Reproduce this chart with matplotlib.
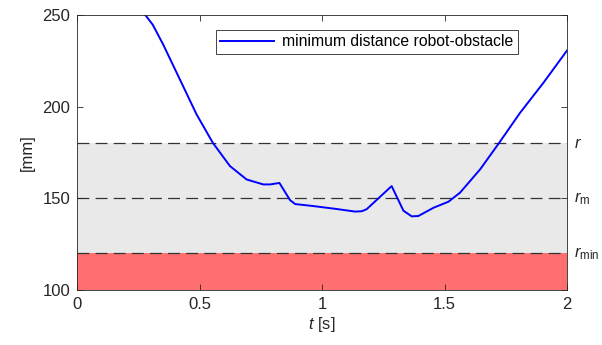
import numpy as np
import matplotlib.pyplot as plt

plt.rcParams['font.family'] = ['Liberation Sans', 'DejaVu Sans']
plt.rcParams['mathtext.fontset'] = 'custom'
plt.rcParams['mathtext.it'] = 'Liberation Sans:italic'
plt.rcParams['mathtext.rm'] = 'Liberation Sans'

# minimum robot-obstacle distance over time
t_s = [0.278, 0.309, 0.352, 0.420, 0.488, 0.554, 0.624, 0.692, 0.760, 0.788, 0.826,
       0.869, 0.890, 0.965, 1.060, 1.135, 1.162, 1.182, 1.284, 1.332, 1.366, 1.393,
       1.455, 1.516, 1.563, 1.645, 1.723, 1.808, 1.903, 2.0]
d_mm = [250, 244.6, 233.7, 214.7, 195.7, 180.3, 167.6, 160.3, 157.6, 157.6, 158.4,
        149.1, 146.9, 145.8, 144.2, 142.8, 143, 144.1, 156.7, 143.3, 140.2, 140.4,
        144.9, 148.2, 153.1, 165.8, 180.3, 196.6, 212.9, 230.6]

# distance thresholds
R_MIN, R_M, R = 120, 150, 180
LEVELS = [(R, r'$r$'), (R_M, r'$r_{\mathrm{m}}$'), (R_MIN, r'$r_{\mathrm{min}}$')]

DARK = '#262626'
fig = plt.figure(figsize=(6.02, 3.45), dpi=100)
ax = fig.add_axes([0.128, 0.159, 0.814, 0.798])

ax.axhspan(R_MIN, R, color='#e9e9e9', lw=0, zorder=0)
ax.axhspan(100, R_MIN, color='#ff6f6f', lw=0, zorder=0)
for y, lab in LEVELS:
    ax.axhline(y, color='0.2', lw=0.9, dashes=(9.5, 5), zorder=1)
    ax.text(2.03, y, lab, fontsize=12, color=DARK, va='center', ha='left', clip_on=False)

ax.plot(t_s, d_mm, color='#0000ff', lw=1.4, zorder=3, label='minimum distance robot-obstacle')

ax.set_xlim(0, 2); ax.set_ylim(100, 250)
ax.set_xticks([0, 0.5, 1, 1.5, 2]); ax.set_xticklabels(['0', '0.5', '1', '1.5', '2'])
ax.set_yticks([100, 150, 200, 250])
ax.tick_params(direction='in', top=True, right=True, labelsize=12, colors=DARK,
               length=4, width=0.6, pad=5)
for sp in ax.spines.values():
    sp.set_color(DARK); sp.set_linewidth(0.6); sp.set_zorder(4)
ax.set_xlabel(r'$t$ [s]', fontsize=12, color=DARK, labelpad=2)
ax.set_ylabel('[mm]', fontsize=12, color=DARK, labelpad=5)

leg = ax.legend(loc='upper right', bbox_to_anchor=(0.915, 0.975), fontsize=11.3, fancybox=False,
                framealpha=1, edgecolor=DARK, handlelength=3.4, handletextpad=0.5, borderpad=0.3)
leg.get_frame().set_linewidth(0.6)

fig.savefig('out.png', dpi=100)
